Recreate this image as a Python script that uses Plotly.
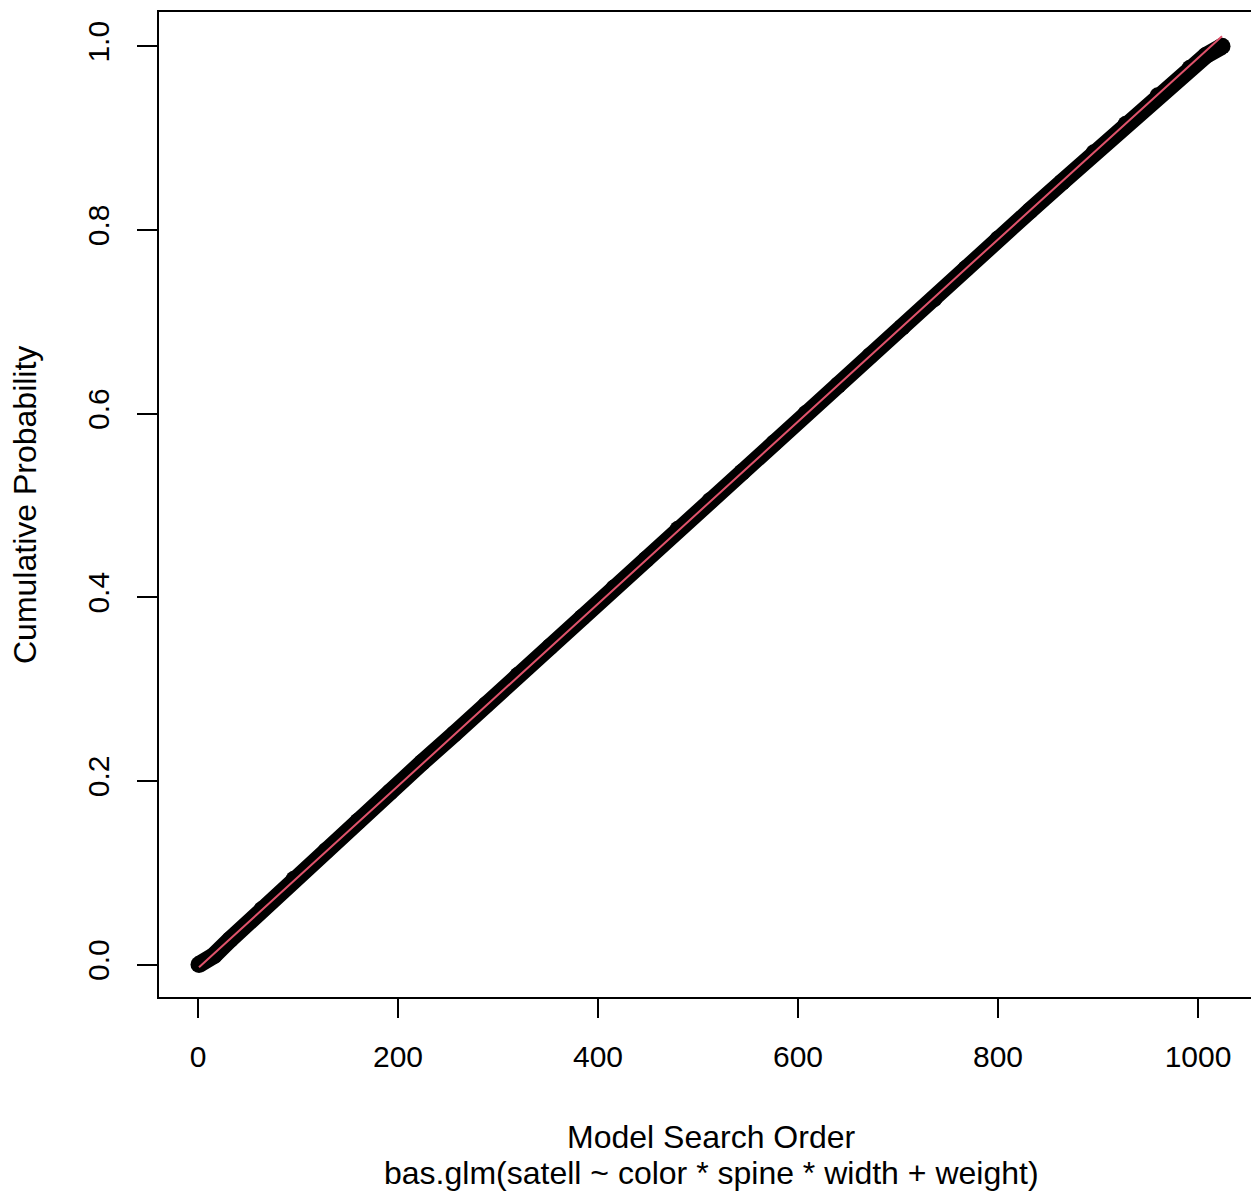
import plotly.graph_objects as go

model_order = [1, 16, 32, 64, 96, 128, 160, 192, 224, 256, 288, 320, 352, 384, 416,
               448, 480, 512, 544, 576, 608, 640, 672, 704, 736, 768, 800, 832,
               864, 896, 928, 960, 992, 1008, 1024]
cum_prob = [0.000, 0.010, 0.027, 0.060, 0.093, 0.124, 0.156, 0.188, 0.220, 0.251,
            0.283, 0.315, 0.346, 0.378, 0.410, 0.441, 0.474, 0.505, 0.536, 0.568,
            0.600, 0.631, 0.663, 0.694, 0.725, 0.758, 0.790, 0.821, 0.852, 0.884,
            0.915, 0.946, 0.976, 0.990, 1.000]

# Smooth (lowess) line
smooth_x = [1, 256, 512, 768, 1024]
smooth_y = [-0.003, 0.250, 0.505, 0.758, 1.011]

x_ticks = [0, 200, 400, 600, 800, 1000]
y_ticks = [0.0, 0.2, 0.4, 0.6, 0.8, 1.0]
y_tick_text = ["0.0", "0.2", "0.4", "0.6", "0.8", "1.0"]

FONT = "Liberation Sans, Arial, sans-serif"

# page has an 8px body margin; figure is sized/offset to compensate
W, H = 1251, 1186
ML, MT, MB = 150, 3, 196
PW = W - ML
PH = H - MT - MB

fig = go.Figure()
fig.add_trace(go.Scatter(
    x=model_order, y=cum_prob, mode="lines+markers",
    line=dict(color="black", width=17),
    marker=dict(color="black", size=17),
    showlegend=False, hoverinfo="skip"))
fig.add_trace(go.Scatter(
    x=smooth_x, y=smooth_y, mode="lines",
    line=dict(color="#DF536B", width=2),
    showlegend=False, hoverinfo="skip"))

fig.update_layout(
    width=W, height=H,
    margin=dict(l=ML, r=0, t=MT, b=MB),
    paper_bgcolor="white", plot_bgcolor="white",
    font=dict(family=FONT, size=30, color="black"),
    xaxis=dict(range=[-40, 1061], tickvals=x_ticks, ticks="outside", ticklen=19,
               tickwidth=2, tickcolor="black", showgrid=False, zeroline=False,
               showline=False, ticklabelstandoff=13,
               tickfont=dict(family=FONT, size=30, color="black")),
    yaxis=dict(range=[-0.0364, 1.0384], tickvals=y_ticks, ticktext=y_tick_text,
               ticks="outside", ticklen=20, tickwidth=2, tickcolor="black",
               showgrid=False, zeroline=False, showline=False, tickangle=-90,
               ticklabelstandoff=16,
               tickfont=dict(family=FONT, size=30, color="black")),
    shapes=[dict(type="rect", xref="paper", yref="paper", x0=0, x1=1.01, y0=0, y1=1,
                 line=dict(color="black", width=2), fillcolor="rgba(0,0,0,0)")],
    annotations=[
        dict(text="Cumulative Probability", xref="paper", yref="paper",
             x=(25 - 158) / PW, y=(998 - 505) / PH, textangle=-90, showarrow=False,
             xanchor="center", yanchor="middle",
             font=dict(family=FONT, size=32, color="black")),
        dict(text="Model Search Order", xref="paper", yref="paper",
             x=(711 - 158) / PW, y=-(1137 - 998) / PH, showarrow=False,
             xanchor="center", yanchor="middle",
             font=dict(family=FONT, size=32, color="black")),
        dict(text="bas.glm(satell ~ color * spine * width + weight)", xref="paper",
             yref="paper", x=(711 - 158) / PW, y=-(1173 - 998) / PH, showarrow=False,
             xanchor="center", yanchor="middle",
             font=dict(family=FONT, size=32, color="black")),
    ],
)

fig.write_html("out.html")
